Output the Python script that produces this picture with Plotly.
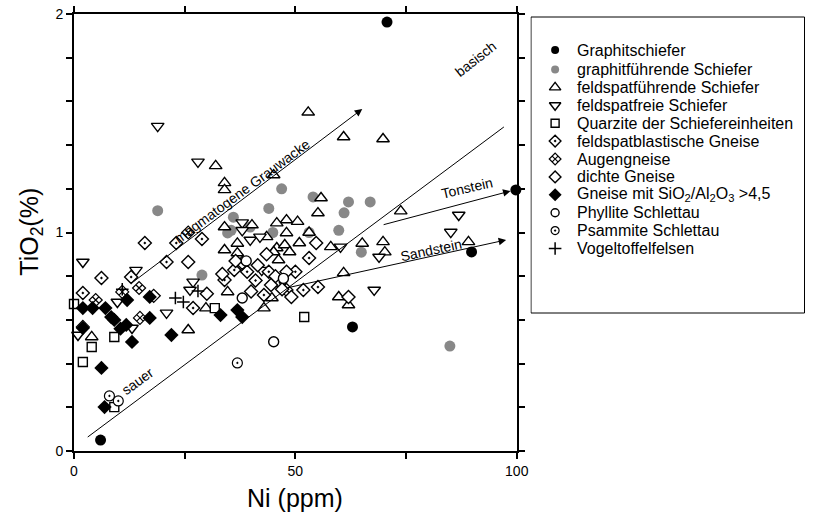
import plotly.graph_objects as go

# ---------------- data (Ni ppm, TiO2 %) ----------------
graphit_x = [70.7, 99.8, 89.8, 62.9, 6.0]
graphit_y = [1.963, 1.195, 0.911, 0.568, 0.050]

graphitf_x = [18.9, 36.0, 39.8, 35.5, 44.0, 46.9, 44.9, 53.1, 54.0, 59.8, 61.0, 62.0, 66.9, 64.9, 84.9, 28.9, 34.7]
graphitf_y = [1.10, 1.07, 1.025, 1.01, 1.11, 1.20, 1.00, 1.00, 1.163, 1.01, 1.09, 1.14, 1.14, 0.91, 0.48, 0.805, 0.998]

fspf_x = [32, 34, 34, 45.1, 48, 45.8, 34, 52.9, 60.9, 69.8, 55.8, 55.1, 73.8, 53.1, 58, 65.1, 69.8, 70.2,
          89.1, 60.9, 59.8, 62, 50.9, 40.2, 36.9, 36.9, 34, 34.7, 29.8, 42.9, 25.8, 4, 45.8, 47.6, 45.1,
          48.7, 46.2, 48, 43.5, 50.5, 44.7]
fspf_y = [1.305, 1.227, 1.195, 1.263, 1.057, 1.043, 1.025, 1.55, 1.437, 1.428, 1.158, 1.089, 1.098, 1.0,
          0.934, 0.95, 0.957, 0.91, 0.957, 0.815, 0.705, 0.668, 0.952, 1.034, 0.95, 0.906, 0.92, 0.728,
          0.654, 0.654, 0.554, 0.522, 0.929, 0.943, 0.911, 0.911, 0.874, 0.998, 0.98, 1.05, 0.70]

fspfrei_x = [18.9, 28, 38, 38, 39.8, 42, 2, 14, 26.9, 26.2, 9.8, 20.9, 0.9, 13.1, 60.2, 42.4, 68.9, 67.8, 85.1, 86.9]
fspfrei_y = [1.487, 1.323, 1.045, 1.01, 0.966, 0.98, 0.865, 0.828, 0.774, 0.737, 0.682, 0.632, 0.531, 0.563,
             0.934, 0.828, 0.888, 0.737, 1.002, 1.08]

quarz_x = [0, 4, 2, 9.1, 9.1, 31.8, 52]
quarz_y = [0.673, 0.476, 0.407, 0.522, 0.201, 0.654, 0.613]

fblast_x = [16, 23.1, 28.9, 20.9, 12.9, 6.2, 26.9, 34, 36.2, 39.1, 44, 42.9, 53.1, 50, 51.8, 55.1, 2, 41, 46.5, 38]
fblast_y = [0.952, 0.952, 0.970, 0.865, 0.796, 0.792, 0.654, 0.783, 0.828, 0.82, 0.82, 0.714, 0.883, 0.82,
            0.737, 0.751, 0.723, 0.78, 0.77, 0.86]

augen_x = [4.9, 10.9, 14.7, 14.9, 2, 48, 25.8]
augen_y = [0.691, 0.728, 0.746, 0.609, 0.568, 0.737, 1.0]

dicht_x = [25.8, 54.7, 49.1, 62, 36.5, 41.5, 43.5, 45.5, 47, 33.5, 40, 44.5, 30, 48, 18]
dicht_y = [0.865, 0.952, 0.705, 0.705, 0.87, 0.85, 0.9, 0.8, 0.74, 0.81, 0.73, 0.76, 0.72, 0.82, 0.71]

gneis45_x = [2, 4.2, 7.1, 8.4, 12, 17.1, 17.1, 11.8, 13.1, 6.2, 22, 6.9, 2, 33.1, 36.9, 38, 9.1, 10.5]
gneis45_y = [0.654, 0.654, 0.654, 0.613, 0.691, 0.705, 0.609, 0.577, 0.499, 0.38, 0.531, 0.201, 0.563,
             0.622, 0.645, 0.613, 0.6, 0.56]

phyll_x = [38.9, 38, 45.1, 47.3]
phyll_y = [0.87, 0.70, 0.50, 0.79]

psamm_x = [8, 10, 36.9]
psamm_y = [0.252, 0.229, 0.403]

vogel_x = [10.9, 22.9, 24.7, 28]
vogel_y = [0.74, 0.70, 0.682, 0.732]

names = ["Graphitschiefer", "graphitführende Schiefer", "feldspatführende Schiefer",
         "feldspatfreie Schiefer", "Quarzite der Schiefereinheiten", "feldspatblastische Gneise",
         "Augengneise", "dichte Gneise", "Gneise mit SiO<sub>2</sub>/Al<sub>2</sub>O<sub>3</sub> >4,5",
         "Phyllite Schlettau", "Psammite Schlettau", "Vogeltoffelfelsen"]

x_tick_labels = ["0", "50", "100"]
y_tick_labels = ["0", "1", "2"]

# reference lines / arrows (Ni, TiO2)
sauer_line = [(3.1, 0.064), (97.1, 1.483)]
arrow_grauwacke = [(13.1, 0.77), (65.1, 1.565)]
arrow_tonstein = [(69.6, 1.034), (98.6, 1.19)]
arrow_sandstein = [(48.0, 0.746), (97.6, 0.966)]

FONT = "Liberation Sans, Arial, sans-serif"

# ---------------- styles ----------------
styles = [
    dict(symbol="circle", color="black", lc="black", lw=0, size=11, ls=8),
    dict(symbol="circle", color="#888888", lc="#888888", lw=0, size=11, ls=8),
    dict(symbol="triangle-up", color="white", lc="black", lw=1.4, size=11, ls=10),
    dict(symbol="triangle-down", color="white", lc="black", lw=1.4, size=11, ls=10),
    dict(symbol="square", color="white", lc="black", lw=1.4, size=9, ls=8),
    dict(symbol="diamond-dot", color="white", lc="black", lw=1.4, size=10, ls=9),
    dict(symbol="diamond-x", color="white", lc="black", lw=1.2, size=10, ls=9),
    dict(symbol="diamond", color="white", lc="black", lw=1.4, size=10, ls=9),
    dict(symbol="diamond", color="black", lc="black", lw=0, size=11, ls=10),
    dict(symbol="circle", color="white", lc="black", lw=1.4, size=10, ls=8),
    dict(symbol="circle-dot", color="white", lc="black", lw=1.2, size=10, ls=8),
    dict(symbol="cross-thin", color="black", lc="black", lw=1.5, size=9, ls=9),
]

xs = [graphit_x, graphitf_x, fspf_x, fspfrei_x, quarz_x, fblast_x, augen_x, dicht_x, gneis45_x, phyll_x, psamm_x, vogel_x]
ys = [graphit_y, graphitf_y, fspf_y, fspfrei_y, quarz_y, fblast_y, augen_y, dicht_y, gneis45_y, phyll_y, psamm_y, vogel_y]

W, H = 817, 515
ML, MR, MT, MB = 74, 0, 14, 64
PW = W - ML - MR
PH = H - MT - MB
PLOT_RIGHT = 524
LEG_LEFT = 538

fig = go.Figure()

for nm, x, y, st in zip(names, xs, ys, styles):
    fig.add_trace(go.Scatter(
        x=x, y=y, mode="markers", name=nm, showlegend=False, cliponaxis=False,
        marker=dict(symbol=st["symbol"], size=st["size"], color=st["color"],
                    line=dict(color=st["lc"], width=st["lw"])),
        xaxis="x", yaxis="y"))

# manual legend (x2/y2 axes use pixel-like coordinates)
leg_y = [50] + [69.5 + 17.9 * k for k in range(len(names) - 1)]
for nm, st, ly in zip(names, styles, leg_y):
    fig.add_trace(go.Scatter(
        x=[563], y=[ly], mode="markers", showlegend=False, cliponaxis=False, hoverinfo="skip",
        marker=dict(symbol=st["symbol"], size=st["ls"], color=st["color"],
                    line=dict(color=st["lc"], width=st["lw"])),
        xaxis="x2", yaxis="y2"))

annotations = []
for nm, ly in zip(names, leg_y):
    annotations.append(dict(x=583, y=ly, xref="x2", yref="y2", text=nm, showarrow=False,
                            xanchor="left", yanchor="middle",
                            font=dict(family=FONT, size=16, color="black")))

# arrows
for (tx, ty), (hx, hy) in [arrow_grauwacke, arrow_tonstein, arrow_sandstein]:
    annotations.append(dict(x=hx, y=hy, ax=tx, ay=ty, xref="x", yref="y", axref="x", ayref="y",
                            text="", showarrow=True, arrowhead=2, arrowsize=1.5, arrowwidth=1,
                            arrowcolor="black"))

# labels
labels = [
    ("magmatogene Grauwacke", 38.0, 1.19, -36.5),
    ("sauer", 14.4, 0.32, -36),
    ("Tonstein", 88.7, 1.204, -13),
    ("Sandstein", 80.7, 0.92, -12),
    ("basisch", 90.7, 1.794, -38),
]
for t, lx, ly, ang in labels:
    annotations.append(dict(x=lx, y=ly, xref="x", yref="y", text=t, showarrow=False,
                            xanchor="center", yanchor="middle",
                            textangle=ang, font=dict(family=FONT, size=14, color="black")))

# axis titles
annotations.append(dict(x=(299 - ML) / PW, y=(MT + PH - 498) / PH, xref="paper", yref="paper",
                        text="Ni (ppm)", showarrow=False, xanchor="center", yanchor="middle",
                        font=dict(family=FONT, size=25, color="black")))
annotations.append(dict(x=(30 - ML) / PW, y=(MT + PH - 232) / PH, xref="paper", yref="paper",
                        text="TiO<sub>2</sub>(%)", showarrow=False, textangle=-90,
                        xanchor="center", yanchor="middle",
                        font=dict(family=FONT, size=25, color="black")))

shapes = [
    dict(type="line", xref="x", yref="y", x0=sauer_line[0][0], y0=sauer_line[0][1],
         x1=sauer_line[1][0], y1=sauer_line[1][1], line=dict(color="black", width=1)),
    dict(type="rect", xref="x2", yref="y2", x0=538.5, x1=816.5, y0=17, y1=313,
         line=dict(color="black", width=1), fillcolor="rgba(0,0,0,0)", layer="below"),
]

axis_common = dict(showline=True, linewidth=2, linecolor="black", mirror="ticks",
                   ticks="outside", ticklen=6, tickwidth=1.5, tickcolor="black",
                   showgrid=False, zeroline=False,
                   tickfont=dict(family=FONT, size=14, color="black"))

fig.update_layout(
    width=W, height=H, autosize=False,
    margin=dict(l=ML, r=MR, t=MT, b=MB, pad=0),
    paper_bgcolor="white", plot_bgcolor="white",
    showlegend=False,
    xaxis=dict(domain=[0, (PLOT_RIGHT - ML) / PW], range=[0, 100], tickvals=[0, 50, 100],
               ticktext=x_tick_labels,
               minor=dict(tickvals=[25, 75], ticks="outside", ticklen=6, tickwidth=1.5, tickcolor="black"),
               anchor="y", **axis_common),
    yaxis=dict(domain=[0, 1], range=[0, 2], tickvals=[0, 1, 2], ticktext=y_tick_labels,
               minor=dict(tickvals=[0.2, 0.4, 0.6, 0.8, 1.2, 1.4, 1.6, 1.8], ticks="outside",
                          ticklen=6, tickwidth=1.5, tickcolor="black"),
               anchor="x", **axis_common),
    xaxis2=dict(domain=[(LEG_LEFT - ML) / PW, 1], range=[LEG_LEFT, W], visible=False,
                anchor="y2", fixedrange=True),
    yaxis2=dict(domain=[0, 1], range=[MT + PH, MT], visible=False, anchor="x2", fixedrange=True),
    annotations=annotations,
    shapes=shapes,
    font=dict(family=FONT),
)

fig.write_html("out.html",
               config={"responsive": False, "displayModeBar": False},
               post_script="document.body.style.margin='0px';document.body.style.overflow='hidden';")
